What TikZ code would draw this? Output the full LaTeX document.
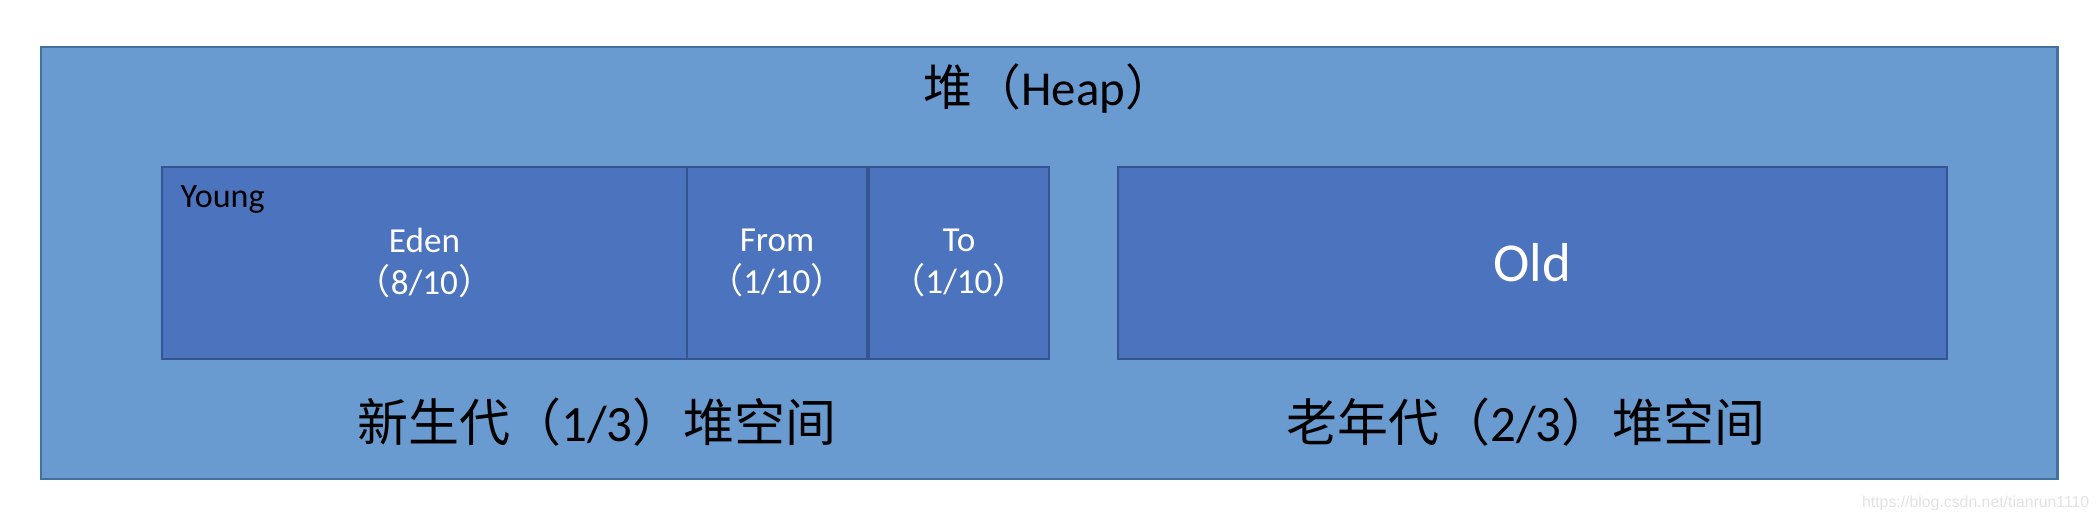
\documentclass[tikz,border=0pt]{standalone}
\usepackage{fontspec}
\setmainfont{Carlito}
\newfontfamily\cjk{Noto Sans CJK SC}
\newfontfamily\markfont{Liberation Sans}
\newcommand\lpar{{\cjk （}}
\newcommand\rpar{{\cjk ）}}
\definecolor{heapblue}{HTML}{699BD0}
\definecolor{heapedge}{HTML}{41719C}
\definecolor{genblue}{HTML}{4C73BE}
\definecolor{genedge}{HTML}{34558F}
\definecolor{markgray}{HTML}{E2E2E2}
\begin{document}
\begin{tikzpicture}[
  heapbox/.style={draw=heapedge, fill=heapblue, line width=0.85pt, inner sep=0pt,
    minimum width=20.16cm, minimum height=4.32cm},
  genbox/.style={draw=genedge, fill=genblue, line width=0.7pt, inner sep=0pt,
    minimum height=1.92cm, text=white, align=center},
  small/.style={font=\fontsize{10}{11.8}\selectfont},
  label/.style={anchor=base, font=\fontsize{14.5}{16}\selectfont}
]
  \useasboundingbox (0,0) rectangle (21,-5.2);
  % the heap
  \node [heapbox] (heap) at (10.49,-2.63) {};
  \node [anchor=base, font=\fontsize{13.9}{16}\selectfont] (title) at (10.49,-1.057)
    {{\cjk 堆（}Heap\rpar};
  % young generation
  \node [genbox, small, minimum width=5.25cm] (eden) at (4.245,-2.63) {Eden\\\lpar 8/10\rpar};
  \node [genbox, small, minimum width=1.80cm] (from) at (7.77,-2.63) {From\\\lpar 1/10\rpar};
  \node [genbox, small, minimum width=1.80cm] (to) at (9.59,-2.63) {To\\\lpar 1/10\rpar};
  \node [anchor=base west, inner sep=0pt, font=\fontsize{9.7}{11}\selectfont] (young) at (1.80,-2.08) {Young};
  % old generation
  \node [genbox, minimum width=8.29cm, font=\fontsize{15.6}{18}\selectfont] (old) at (15.325,-2.63) {Old};
  % captions
  \node [label] (younglabel) at (5.97,-4.41) {{\cjk 新生代（}1/3{\cjk ）堆空间}};
  \node [label] (oldlabel) at (15.26,-4.41) {{\cjk 老年代（}2/3{\cjk ）堆空间}};
  \node [anchor=base east, inner sep=0pt, text=markgray, font=\markfont\fontsize{4.5}{5}\selectfont]
    (mark) at (20.90,-5.07) {https://blog.csdn.net/tianrun1110};
\end{tikzpicture}
\end{document}
